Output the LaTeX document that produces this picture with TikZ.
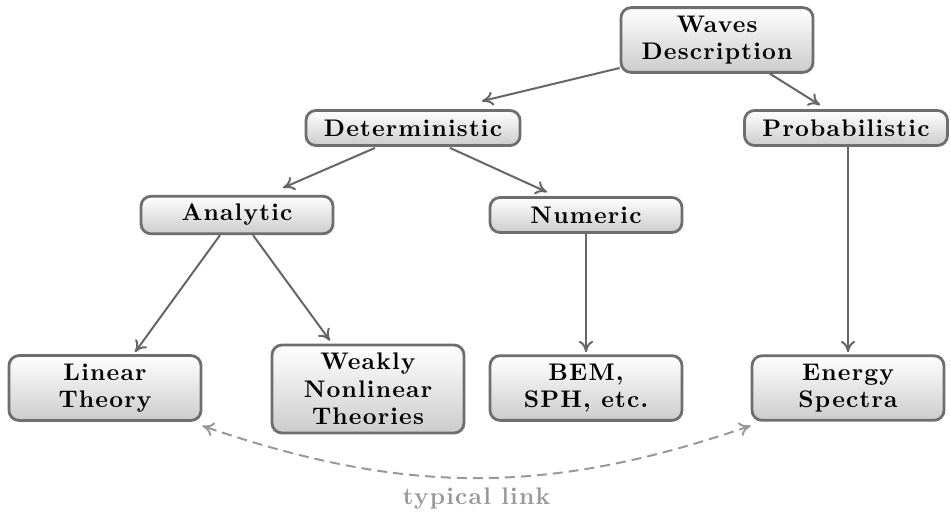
\documentclass[tikz,border=0pt]{standalone}
\usepackage{fontspec}
\setmainfont{lmroman10}[Extension=.otf, UprightFont=*-regular, BoldFont=*-bold, LetterSpace=5]
\usepackage{tikz}
\usetikzlibrary{
  arrows.meta,
  calc,
}
\definecolor{boxEdge}{HTML}{6E6E6E}
\definecolor{linkGray}{HTML}{999999}
\tikzset{
  wbox/.style={
    rectangle, rounded corners=5pt, draw=boxEdge, line width=1.4pt,
    top color=white, bottom color=black!20, inner xsep=9pt, inner ysep=4pt,
    minimum height=17.5pt, align=center,
    font=\fontsize{12}{13.8}\selectfont\bfseries,
  },
  fixbox/.style={
    wbox, minimum width=96pt,
  },
  treeArrow/.style={
    -{To[length=2mm,width=2.5mm]}, line width=1pt, draw=black!60,
  },
  linkArrow/.style={
    {To[length=2mm,width=2.5mm]}-{To[length=2mm,width=2.5mm]},
    dash pattern=on 5pt off 3pt, line width=1pt, draw=linkGray,
  },
}

\begin{document}
\begin{tikzpicture}[x=0.5pt, y=-0.5pt]
\useasboundingbox (0,0) rectangle (951,516);

\node[fixbox] (waves) at (717,40) {Waves\\Description};
\node[wbox] (det) at (413,128) {Deterministic};
\node[wbox] (prob) at (846,128) {Probabilistic};
\node[fixbox] (analytic) at (237,215) {Analytic};
\node[fixbox] (numeric) at (586,215) {Numeric};
\node[fixbox] (linear) at (105,388) {Linear\\Theory};
\node[fixbox] (weakly) at (368,389) {Weakly\\Nonlinear\\Theories};
\node[fixbox] (bem) at (586,388) {BEM,\\SPH, etc.};
\node[fixbox] (energy) at (848,388) {Energy\\Spectra};

% tree edges
\draw[treeArrow] ($(waves.west)+(0,28)$) -- ($(det.north)+(69,-8)$);
\draw[treeArrow] ($(waves.south)+(53,0)$) -- ($(prob.north)+(-26,-4)$);
\draw[treeArrow] ($(det.south)+(-38,1)$) -- ($(analytic.north)+(46,-7)$);
\draw[treeArrow] ($(det.south)+(37,1)$) -- ($(numeric.north)+(-39,-4)$);
\draw[treeArrow] ($(analytic.south)+(-17,0)$) -- ($(linear.north)+(30,-2)$);
\draw[treeArrow] ($(analytic.south)+(16,0)$) -- ($(weakly.north)+(-38,-3)$);
\draw[treeArrow] (numeric.south) -- ($(bem.north)+(0,-2)$);
\draw[treeArrow] (prob.south -| energy.north) -- ($(energy.north)+(0,-2)$);

% the dashed link
\draw[linkArrow] ($(energy.south west)+(0,4)$) to[bend left=19]
  node[below=1pt, text=linkGray, font=\fontsize{12}{13.8}\selectfont\bfseries] {typical link}
  ($(linear.south east)+(0,4)$);
\end{tikzpicture}
\end{document}
